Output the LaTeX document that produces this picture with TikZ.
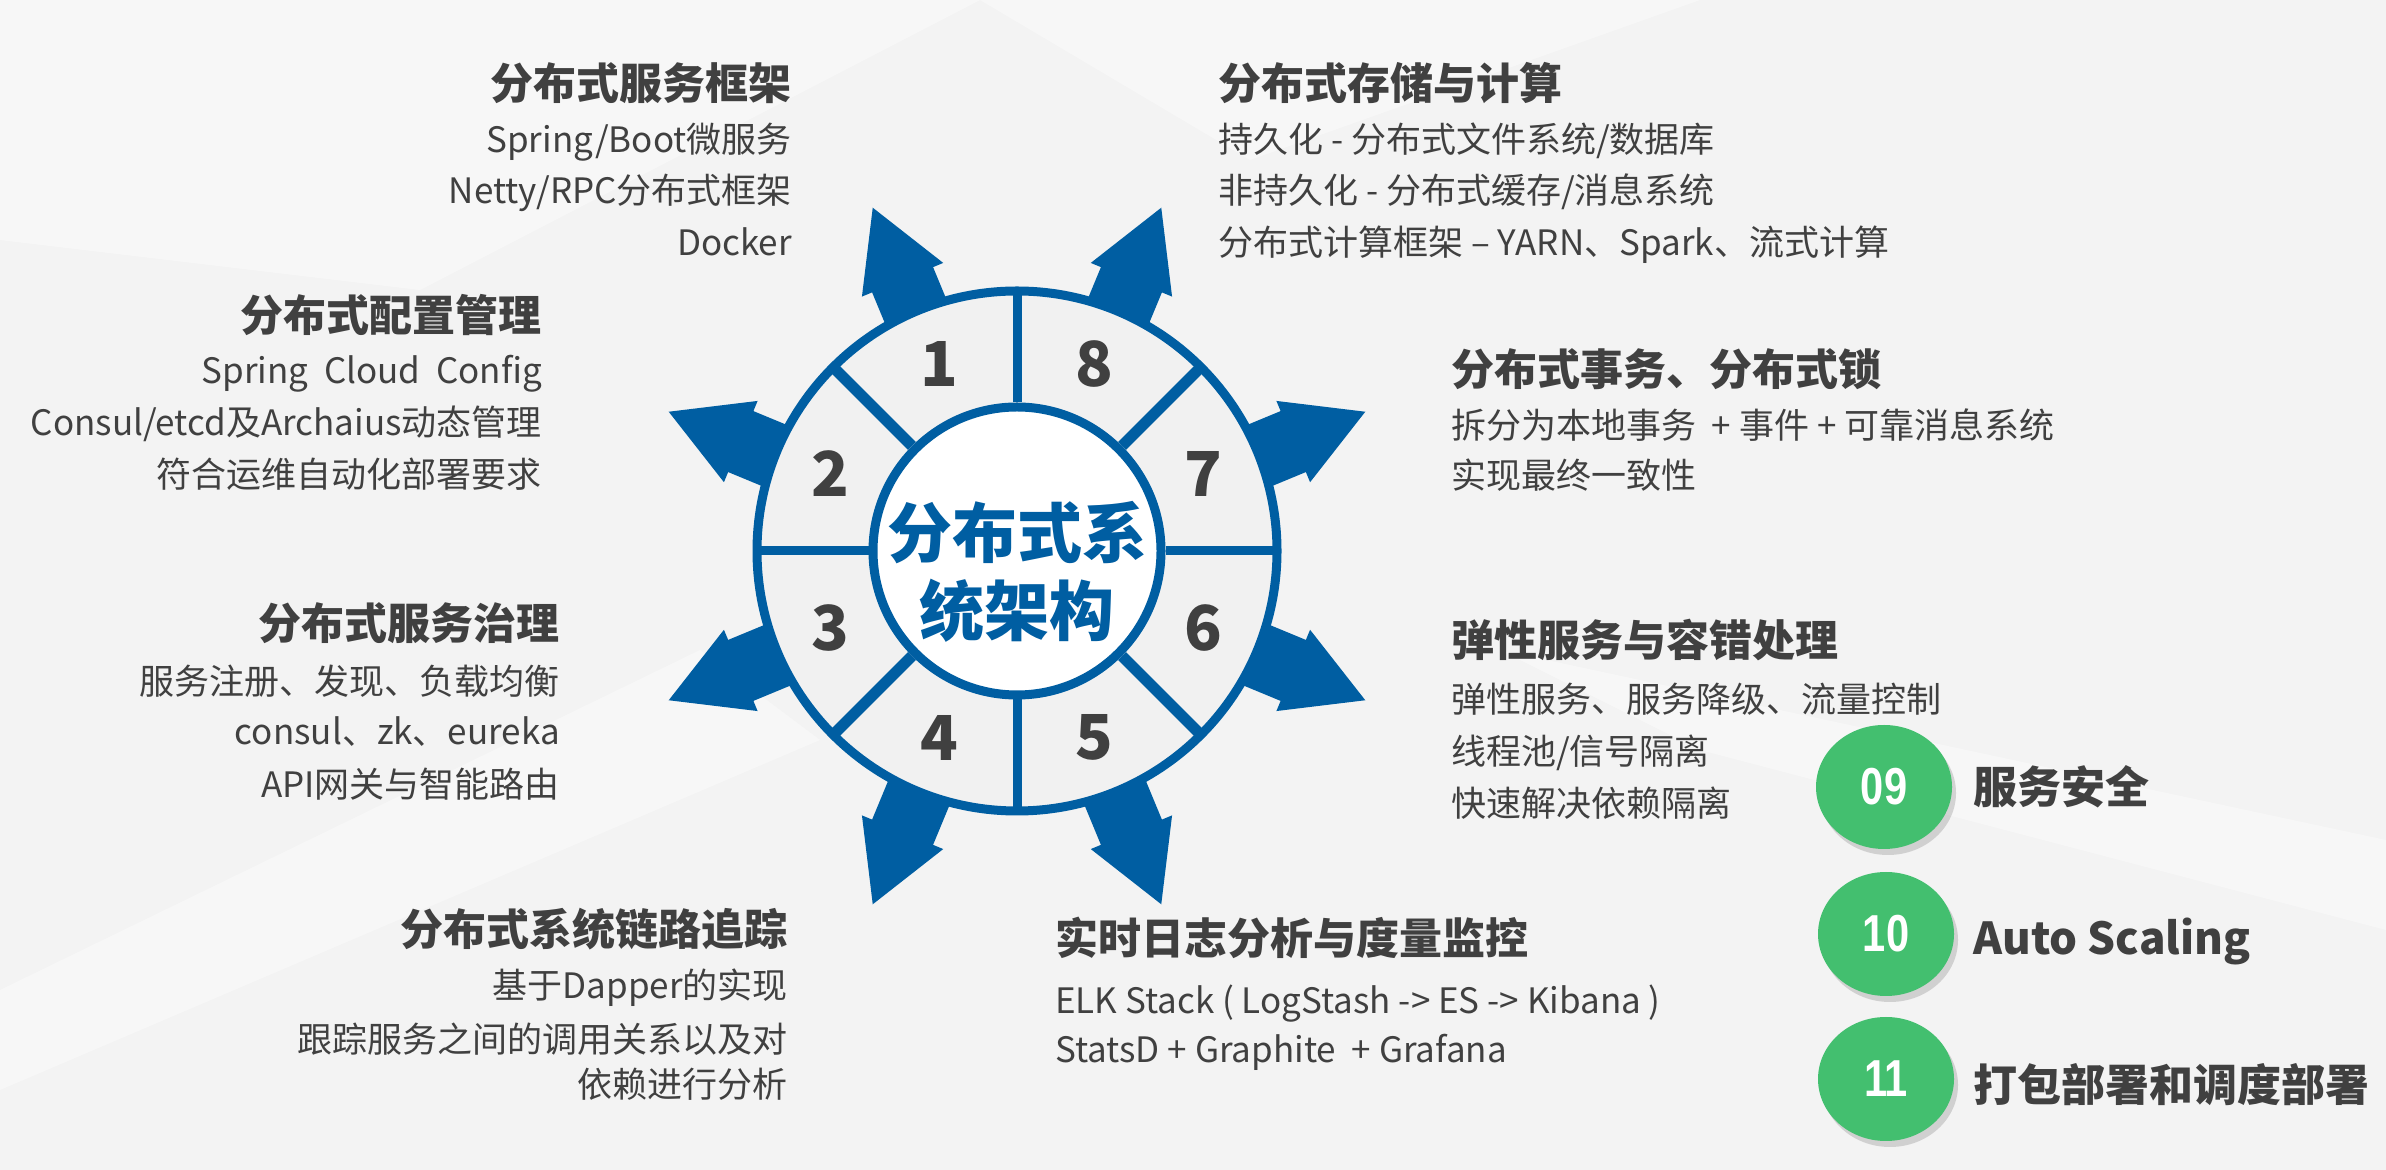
\documentclass[tikz,border=0pt]{standalone}
\usepackage{fontspec}
\usepackage{graphicx}
\setmainfont{Noto Sans CJK SC}
\newfontfamily\badgefont{Liberation Sans}
\usetikzlibrary{calc}
\usetikzlibrary{positioning}
\usetikzlibrary{shapes.geometric}
\usetikzlibrary{shadows}
\definecolor{hubblue}{RGB}{0,94,162}
\definecolor{ringgray}{RGB}{241,241,241}
\definecolor{inkgray}{RGB}{64,64,64}
\definecolor{badgegreen}{RGB}{67,191,111}
\definecolor{paper}{RGB}{243,243,243}
\tikzstyle{headtxt} = [inner sep=0, text=inkgray, font=\fontsize{43}{43}\selectfont\bfseries]
\tikzstyle{bodytxt} = [inner sep=0, text=inkgray, font=\fontsize{35}{35}\selectfont]
\tikzstyle{ringnum} = [inner sep=0, text=inkgray, font=\fontsize{62}{62}\selectfont\bfseries]
\tikzstyle{hubtxt} = [inner sep=0, text=hubblue, font=\fontsize{65}{65}\selectfont\bfseries]
\tikzstyle{spoke} = [fill=hubblue]
\tikzstyle{divider} = [draw=hubblue, line width=9]
\tikzstyle{badge} = [ellipse, fill=badgegreen, minimum width=136, minimum height=124, inner sep=0, text=white, font=\fontsize{52}{52}\badgefont\bfseries, drop shadow={shadow xshift=4, shadow yshift=-6, opacity=0.3}]
\tikzstyle{badgetxt} = [inner sep=0, text=inkgray, font=\fontsize{44}{44}\selectfont\bfseries]

\begin{document}
\begin{tikzpicture}[x=1pt, y=1pt]
    \useasboundingbox (0,0) rectangle (2386,1170);
    \fill[paper] (0,0) rectangle (2386,1170);
    % faint facets of the backdrop
    \fill[white, opacity=0.4] (0,1170) -- (980,1170) -- (420,880) -- (0,930) -- cycle;
    \fill[white, opacity=0.35] (980,1170) -- (1700,1170) -- (1250,1010) -- cycle;
    \fill[white, opacity=0.35] (0,180) -- (700,520) -- (820,430) -- (0,80) -- cycle;
    \fill[white, opacity=0.35] (1500,520) -- (2386,330) -- (2386,240) -- (1700,420) -- cycle;

    \coordinate (hub) at (1017,619);
    \coordinate (spokehub) at (1017,614);

    % arrows behind the ring
    \fill[spoke, shift={(spokehub)}, rotate=22.5] (220,-33) -- (299,-33) -- (299,-44) -- (377,0) -- (299,44) -- (299,33) -- (220,33) -- cycle;
    \fill[spoke, shift={(spokehub)}, rotate=67.5] (220,-33) -- (299,-33) -- (299,-44) -- (377,0) -- (299,44) -- (299,33) -- (220,33) -- cycle;
    \fill[spoke, shift={(spokehub)}, rotate=112.5] (220,-33) -- (299,-33) -- (299,-44) -- (377,0) -- (299,44) -- (299,33) -- (220,33) -- cycle;
    \fill[spoke, shift={(spokehub)}, rotate=157.5] (220,-33) -- (299,-33) -- (299,-44) -- (377,0) -- (299,44) -- (299,33) -- (220,33) -- cycle;
    \fill[spoke, shift={(spokehub)}, rotate=202.5] (220,-33) -- (299,-33) -- (299,-44) -- (377,0) -- (299,44) -- (299,33) -- (220,33) -- cycle;
    \fill[spoke, shift={(spokehub)}, rotate=247.5] (220,-33) -- (299,-33) -- (299,-44) -- (377,0) -- (299,44) -- (299,33) -- (220,33) -- cycle;
    \fill[spoke, shift={(spokehub)}, rotate=292.5] (220,-33) -- (299,-33) -- (299,-44) -- (377,0) -- (299,44) -- (299,33) -- (220,33) -- cycle;
    \fill[spoke, shift={(spokehub)}, rotate=337.5] (220,-33) -- (299,-33) -- (299,-44) -- (377,0) -- (299,44) -- (299,33) -- (220,33) -- cycle;

    % ring and core
    \draw[hubblue, line width=9, fill=ringgray] (hub) circle[radius=260];
    \node[circle, draw=hubblue, line width=9, fill=white, minimum size=288, inner sep=0] (core) at (hub) {};
    \draw[divider] (core.0) -- ($(hub)+(0:260)$);
    \draw[divider, line width=11] (core.45) -- ($(hub)+(45:260)$);
    \draw[divider] (core.90) -- ($(hub)+(90:260)$);
    \draw[divider, line width=11] (core.135) -- ($(hub)+(135:260)$);
    \draw[divider] (core.180) -- ($(hub)+(180:260)$);
    \draw[divider, line width=11] (core.225) -- ($(hub)+(225:260)$);
    \draw[divider] (core.270) -- ($(hub)+(270:260)$);
    \draw[divider, line width=11] (core.315) -- ($(hub)+(315:260)$);

    \node[ringnum] (num_one) at ($(hub)+(112.5:202)$) {1};
    \node[ringnum] (num_two) at ($(hub)+(157.5:202)$) {2};
    \node[ringnum] (num_three) at ($(hub)+(202.5:202)$) {3};
    \node[ringnum] (num_four) at ($(hub)+(247.5:202)$) {4};
    \node[ringnum] (num_five) at ($(hub)+(292.5:202)$) {5};
    \node[ringnum] (num_six) at ($(hub)+(337.5:202)$) {6};
    \node[ringnum] (num_seven) at ($(hub)+(22.5:202)$) {7};
    \node[ringnum] (num_eight) at ($(hub)+(67.5:202)$) {8};

    \node[hubtxt, anchor=base] (title_a) at ($(hub)+(0,-7)$) {分布式系};
    \node[hubtxt, anchor=base] (title_b) at ($(hub)+(0,-85)$) {统架构};

    % left side
    \node[headtxt, anchor=base east] (frame_head) at (792,1070) {分布式服务框架};
    \node[bodytxt, anchor=base east] (frame_a) at ($(frame_head.base east)+(0,-53)$) {Spring/Boot微服务};
    \node[bodytxt, anchor=base east] (frame_b) at ($(frame_a.base east)+(0,-51)$) {Netty/RPC分布式框架};
    \node[bodytxt, anchor=base east] (frame_c) at ($(frame_b.base east)+(0,-52)$) {Docker};

    \node[headtxt, anchor=base east] (conf_head) at (542,838) {分布式配置管理};
    \node[bodytxt, anchor=base east] (conf_a) at ($(conf_head.base east)+(0,-52)$) {Spring\ \ Cloud\ \ Config};
    \node[bodytxt, anchor=base east] (conf_b) at ($(conf_a.base east)+(0,-52)$) {Consul/etcd及Archaius动态管理};
    \node[bodytxt, anchor=base east] (conf_c) at ($(conf_b.base east)+(0,-52)$) {符合运维自动化部署要求};

    \node[headtxt, anchor=base east] (gov_head) at (560,530) {分布式服务治理};
    \node[bodytxt, anchor=base east] (gov_a) at ($(gov_head.base east)+(0,-55)$) {服务注册、发现、负载均衡};
    \node[bodytxt, anchor=base east] (gov_b) at ($(gov_a.base east)+(0,-50)$) {consul、zk、eureka};
    \node[bodytxt, anchor=base east] (gov_c) at ($(gov_b.base east)+(0,-53)$) {API网关与智能路由};

    \node[headtxt, anchor=base east] (trace_head) at (788,224) {分布式系统链路追踪};
    \node[bodytxt, anchor=base east] (trace_a) at ($(trace_head.base east)+(0,-53)$) {基于Dapper的实现};
    \node[bodytxt, anchor=base east] (trace_b) at ($(trace_a.base east)+(0,-54)$) {跟踪服务之间的调用关系以及对};
    \node[bodytxt, anchor=base east] (trace_c) at ($(trace_b.base east)+(0,-45)$) {依赖进行分析};

    % right side
    \node[headtxt, anchor=base west] (store_head) at (1218,1070) {分布式存储与计算};
    \node[bodytxt, anchor=base west] (store_a) at ($(store_head.base west)+(0,-53)$) {持久化 - 分布式文件系统/数据库};
    \node[bodytxt, anchor=base west] (store_b) at ($(store_a.base west)+(0,-51)$) {非持久化 - 分布式缓存/消息系统};
    \node[bodytxt, anchor=base west] (store_c) at ($(store_b.base west)+(0,-52)$) {分布式计算框架\ – YARN、Spark、流式计算};

    \node[headtxt, anchor=base west] (txn_head) at (1451,784) {分布式事务、分布式锁};
    \node[bodytxt, anchor=base west] (txn_a) at ($(txn_head.base west)+(0,-53)$) {拆分为本地事务\ \ + 事件\ + 可靠消息系统};
    \node[bodytxt, anchor=base west] (txn_b) at ($(txn_a.base west)+(0,-50)$) {实现最终一致性};

    \node[headtxt, anchor=base west] (resil_head) at (1451,513) {弹性服务与容错处理};
    \node[bodytxt, anchor=base west] (resil_a) at ($(resil_head.base west)+(0,-56)$) {弹性服务、服务降级、流量控制};
    \node[bodytxt, anchor=base west] (resil_b) at ($(resil_a.base west)+(0,-52)$) {线程池/信号隔离};
    \node[bodytxt, anchor=base west] (resil_c) at ($(resil_b.base west)+(0,-52)$) {快速解决依赖隔离};

    \node[headtxt, anchor=base west] (log_head) at (1055,215) {实时日志分析与度量监控};
    \node[bodytxt, anchor=base west] (log_a) at ($(log_head.base west)+(0,-59)$) {ELK Stack ( LogStash -> ES -> Kibana )};
    \node[bodytxt, anchor=base west] (log_b) at ($(log_a.base west)+(0,-49)$) {StatsD + Graphite\ \ + Grafana};

    % extra items
    \node[badge] (badge_a) at (1884,383) {\scalebox{0.8}[1]{09}};
    \node[badge] (badge_b) at (1886,236) {\scalebox{0.8}[1]{10}};
    \node[badge] (badge_c) at (1886,91) {\scalebox{0.8}[1]{11}};
    \node[badgetxt, anchor=base west] (sec_txt) at (1973,366) {服务安全};
    \node[badgetxt, anchor=base west] (scale_txt) at (1973,215) {Auto Scaling};
    \node[badgetxt, anchor=base west] (deploy_txt) at (1973,68) {打包部署和调度部署};
\end{tikzpicture}
\end{document}
